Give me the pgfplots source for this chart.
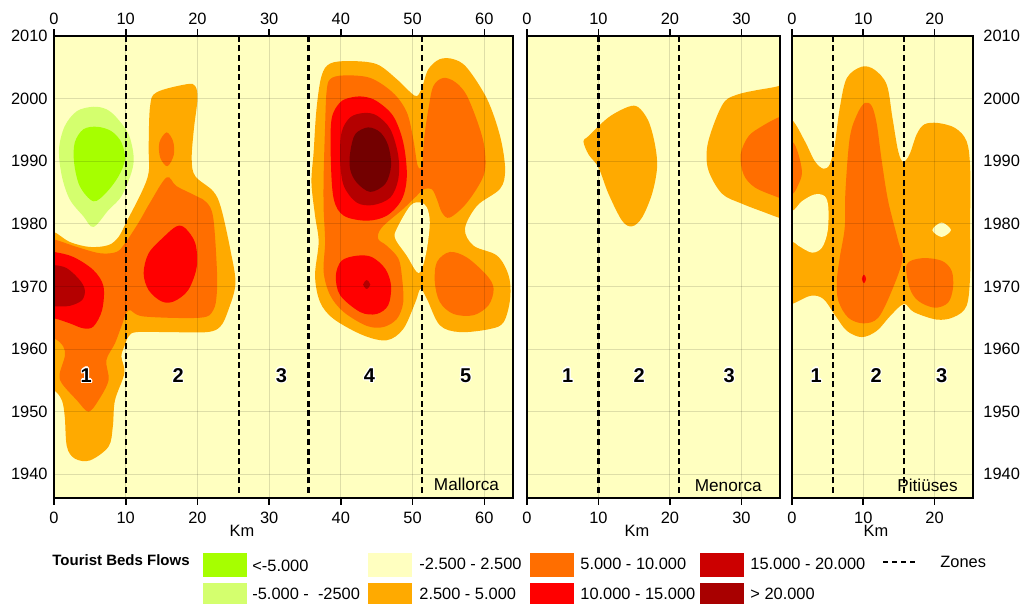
\documentclass[border=0pt]{standalone}
\usepackage{fontspec}
\setmainfont{Liberation Sans}
\usepackage{pgfplots}
\pgfplotsset{compat=1.18}

\definecolor{bgY}{RGB}{255,255,192}
\definecolor{gr1}{RGB}{166,255,0}
\definecolor{gr2}{RGB}{212,255,110}
\definecolor{or1}{RGB}{255,170,0}
\definecolor{or2}{RGB}{255,110,0}
\definecolor{rd1}{RGB}{255,0,0}
\definecolor{rd2}{RGB}{180,0,0}
\definecolor{rd3}{RGB}{115,0,0}
\definecolor{rd2L}{RGB}{204,0,0}
\definecolor{rd3L}{RGB}{168,0,0}

% zone number with white halo
\newcommand{\zl}[3]{%
  \node[zn,text=white,xshift=0.6pt] at (axis cs:#1,#2) {#3};
  \node[zn,text=white,xshift=-0.6pt] at (axis cs:#1,#2) {#3};
  \node[zn,text=white,yshift=0.6pt] at (axis cs:#1,#2) {#3};
  \node[zn,text=white,yshift=-0.6pt] at (axis cs:#1,#2) {#3};
  \node[zn,text=white,xshift=0.45pt,yshift=0.45pt] at (axis cs:#1,#2) {#3};
  \node[zn,text=white,xshift=-0.45pt,yshift=0.45pt] at (axis cs:#1,#2) {#3};
  \node[zn,text=white,xshift=0.45pt,yshift=-0.45pt] at (axis cs:#1,#2) {#3};
  \node[zn,text=white,xshift=-0.45pt,yshift=-0.45pt] at (axis cs:#1,#2) {#3};
  \node[zn,text=black] at (axis cs:#1,#2) {#3};}

\tikzset{zn/.style={font=\bfseries\fontsize{10}{12}\selectfont, inner sep=0pt}}

\pgfplotsset{
  panel/.style={
    anchor=south west, scale only axis, height=231pt,
    xmin=0, ymin=1936.2, ymax=2010,
    ytick={1940,1950,...,2010},
    axis background/.style={fill=bgY},
    grid=major, grid style={black, opacity=0.13, line width=0.5pt},
    axis on top,
    axis line style={black, line width=0.9pt},
    tick align=outside, xtick pos=bottom,
    major tick length=3.5pt,
    xtick style={black, line width=0.8pt},
    ytick style={draw=none},
    tick label style={font=\fontsize{8.2}{9}\selectfont},
    /pgf/number format/assume math mode=true,
    /pgf/number format/1000 sep={},
    scaled ticks=false,
  },
  toppanel/.style={
    anchor=south west, scale only axis, height=231pt,
    xmin=0, ymin=1936.2, ymax=2010,
    axis x line*=top, axis y line=none,
    axis line style={-, black, line width=0.9pt},
    tick align=outside, major tick length=3.5pt,
    xtick style={black, line width=0.8pt},
    tick label style={font=\fontsize{8.2}{9}\selectfont},
    xticklabel style={yshift=-1.2pt},
    /pgf/number format/assume math mode=true,
  },
  blob/.style={draw=none, smooth cycle, tension=0.55},
  zone/.style={black, line width=1.1pt, dash pattern=on 3pt off 1.8pt},
}

\begin{document}
\begin{tikzpicture}
\path[use as bounding box] (0,0) rectangle (512pt,-302pt);

% ---------------- Mallorca ----------------
\begin{axis}[panel, at={(27pt,-249pt)}, width=229.5pt, xmax=64,
  xtick={0,10,...,60}, ytick pos=left, yticklabel style={xshift=3.8pt}]
% west
\addplot[blob, fill=or1] coordinates {(-2,1979) (0,1978.7) (2.2,1977.1) (5.0,1976.3) (7.6,1976.6) (9.0,1977.9) (10.1,1980.3) (12.2,1985.0) (13.2,1988.2) (13.2,1992.4) (13.4,1998.8) (14.3,2001.0) (18.5,2002.3) (19.7,2002.0) (20.0,1999.9) (19.5,1995.1) (19.2,1990.3) (19.7,1987.6) (22.2,1985.2) (23.3,1982.5) (24.6,1975.8) (25.3,1970.5) (24.3,1966.2) (23.2,1963.6) (21.3,1962.7) (16.0,1962.7) (11.5,1962.7) (10.4,1962.0) (9.8,1960.4) (9.4,1958.8) (9.8,1956.1) (8.5,1951.8) (8.2,1947.6) (7.6,1944.4) (5.0,1942.2) (2.9,1942.5) (1.8,1944.4) (1.5,1949.2) (1.1,1951.8) (0,1953.4) (-2,1954)};
\addplot[blob, fill=gr2] coordinates {(5.5,1998.7) (7.3,1998.3) (8.7,1997.0) (10.4,1994.3) (11.1,1990.8) (10.8,1988.2) (9.4,1984.4) (7.6,1982.2) (5.5,1979.5) (4.1,1981.2) (2.2,1983.9) (1.1,1987.6) (0.7,1991.9) (1.5,1995.6) (3.2,1998.0)};
\addplot[blob, fill=gr1] coordinates {(6.0,1995.5) (8.0,1994.8) (9.4,1993.0) (9.9,1990.3) (9.0,1987.6) (7.3,1985.0) (5.5,1983.6) (3.6,1986.0) (2.8,1989.8) (2.9,1993.0) (4.1,1995.1)};
\addplot[blob, fill=or2] coordinates {(15.7,1994.6) (16.6,1993.2) (16.7,1991.0) (15.8,1989.2) (14.8,1990.6) (14.7,1993.0)};
\addplot[blob, fill=or2] coordinates {(-2,1977.6) (0,1977.5) (3.2,1976.3) (6.4,1975.3) (8.7,1975.5) (9.9,1976.9) (11.8,1980.2) (13.4,1983.4) (15.7,1987.4) (17.1,1986.0) (19.9,1984.4) (21.3,1983.4) (22.2,1981.0) (22.7,1973.1) (22.7,1968.9) (22.2,1966.2) (20.4,1965.0) (12.5,1965.2) (10.4,1966.2) (9.4,1963.6) (8.5,1960.9) (7.3,1958.2) (7.6,1955.0) (6.2,1951.8) (4.8,1950.0) (3.2,1951.8) (1.1,1954.5) (0.8,1956.1) (1.5,1958.8) (1.3,1960.4) (0,1961.7) (-2,1961.7)};
\addplot[blob, fill=rd1] coordinates {(-2,1975.6) (0,1975.5) (2.7,1974.7) (5.5,1972.6) (6.9,1970.0) (6.7,1966.2) (5.5,1963.6) (4.1,1963.3) (2.2,1964.1) (0,1964.9) (-2,1965)};
\addplot[blob, fill=rd2] coordinates {(-2,1973.4) (0,1973.4) (1.8,1972.9) (3.6,1971.0) (4.3,1969.4) (3.9,1967.8) (2.2,1966.9) (0,1966.8) (-2,1966.8)};
\addplot[blob, fill=rd1] coordinates {(17.1,1979.6) (18.3,1979.3) (19.7,1976.9) (19.9,1973.1) (18.7,1969.4) (16.7,1967.6) (15.0,1967.6) (13.2,1969.4) (12.5,1972.1) (13.2,1975.3) (15.3,1977.9)};
% east
\addplot[blob, fill=or1] coordinates {(36.6,1998.3) (37.3,2003.6) (38.5,2005.6) (41.3,2006.0) (45.0,2005.5) (47.8,2003.1) (49.7,2001.0) (50.6,2000.4) (51.3,2001.7) (52.2,2004.7) (53.8,2006.3) (55.7,2006.3) (57.6,2004.9) (60.4,1999.9) (62.2,1994.0) (62.9,1988.7) (62.2,1985.6) (59.0,1982.9) (57.3,1979.2) (58.5,1976.5) (61.8,1974.9) (63.4,1971.7) (63.6,1968.0) (62.7,1964.3) (60.8,1963.2) (56.6,1962.7) (53.8,1963.8) (52.0,1968.0) (51.1,1969.6) (50.4,1967.5) (48.7,1963.2) (46.4,1961.4) (43.1,1962.2) (39.0,1964.8) (37.1,1967.5) (36.4,1971.7) (36.9,1977.1) (36.4,1981.3) (35.9,1986.6) (36.2,1991.4)};
\addplot[blob, fill=bgY] coordinates {(51.1,1983.4) (52.0,1982.6) (52.4,1980.2) (52.0,1976.0) (51.3,1972.8) (50.6,1972.3) (49.2,1974.9) (47.6,1977.6) (47.8,1979.2) (49.7,1982.9)};
\addplot[blob, fill=or2] coordinates {(38.0,2001.0) (38.5,2003.1) (40.4,2003.7) (44.1,2003.3) (47.3,2000.9) (49.2,1997.8) (50.1,1993.5) (50.7,1989.3) (51.3,1989.3) (51.6,1993.5) (52.2,1998.3) (52.9,2002.0) (54.3,2003.3) (56.0,2002.6) (57.6,2000.4) (59.4,1995.1) (60.1,1991.4) (59.9,1987.7) (57.6,1983.4) (55.2,1981.0) (54.1,1981.8) (53.4,1983.9) (52.7,1985.5) (51.5,1985.5) (50.6,1984.5) (48.7,1982.4) (45.7,1979.4) (45.2,1977.6) (46.4,1976.5) (48.0,1974.5) (48.5,1971.7) (48.7,1967.5) (47.8,1964.8) (45.9,1963.5) (43.6,1963.7) (40.4,1965.9) (38.5,1968.6) (37.6,1972.3) (37.8,1977.1) (37.6,1982.4) (37.6,1987.7) (37.8,1995.6)};
\addplot[blob, fill=or2] coordinates {(55.2,1975.5) (57.6,1974.6) (60.4,1971.7) (61.3,1969.6) (60.6,1967.0) (58.5,1965.4) (55.7,1965.6) (53.8,1967.5) (53.1,1970.7) (53.4,1973.9)};
\addplot[blob, fill=rd1] coordinates {(41.5,2000.2) (43.2,2000.3) (45.0,1999.6) (47.3,1997.2) (48.7,1993.0) (49.2,1987.7) (48.5,1983.9) (46.4,1981.3) (43.6,1980.5) (40.4,1981.3) (39.0,1984.0) (38.6,1990.3) (38.7,1996.7) (39.9,1999.4)};
\addplot[blob, fill=rd2] coordinates {(43.2,1997.7) (45.0,1997.3) (46.9,1995.1) (48.0,1990.9) (48.0,1987.1) (46.9,1984.2) (44.5,1983.0) (42.2,1983.4) (40.4,1986.1) (39.9,1990.3) (40.1,1994.6) (41.3,1997.0)};
\addplot[blob, fill=rd3] coordinates {(43.8,1995.4) (45.5,1994.6) (46.6,1992.5) (47.0,1989.3) (46.2,1986.4) (44.1,1985.1) (42.2,1986.6) (41.3,1988.7) (41.3,1991.4) (42.0,1994.3)};
\addplot[blob, fill=rd1] coordinates {(42.2,1974.9) (44.3,1974.7) (46.2,1972.8) (47.0,1970.1) (46.6,1967.0) (45.0,1965.6) (42.7,1965.9) (39.9,1968.6) (39.3,1971.7) (40.1,1974.1)};
\addplot[blob, fill=rd2] coordinates {(43.6,1971.0) (44.1,1970.3) (43.6,1969.6) (43.1,1970.3)};
% zones
\addplot[zone] coordinates {(10,1937) (10,2010)};
\addplot[zone] coordinates {(25.8,1937) (25.8,2010)};
\addplot[zone] coordinates {(35.5,1937) (35.5,2010)};
\addplot[zone] coordinates {(51.3,1937) (51.3,2010)};
\zl{4.5}{1955.8}{1}
\zl{17.3}{1955.8}{2}
\zl{31.7}{1955.8}{3}
\zl{44.0}{1955.8}{4}
\zl{57.4}{1955.8}{5}
\node[anchor=east, font=\fontsize{8.6}{10}\selectfont, inner sep=0pt] at (axis cs:62.1,1938.4) {Mallorca};
\end{axis}
\begin{axis}[toppanel, at={(27pt,-249pt)}, width=229.5pt, xmax=64, xtick={0,10,...,60}]
\end{axis}

% ---------------- Menorca ----------------
\begin{axis}[panel, at={(263.5pt,-249pt)}, width=126.5pt, xmax=35.4,
  xtick={0,10,20,30}, yticklabels={}]
\addplot[blob, fill=or1] coordinates {(7.9,1993.2) (8.6,1994.0) (11.4,1997.0) (14.2,1998.7) (15.6,1998.6) (17.0,1996.4) (17.9,1992.7) (18.2,1989.0) (17.5,1984.8) (16.1,1981.0) (14.7,1979.6) (13.3,1980.5) (11.4,1984.8) (10.0,1989.0) (8.6,1991.1)};
\addplot[blob, fill=or1] coordinates {(37,2003) (35.2,2002.0) (31.9,2001.3) (29.6,2000.7) (27.7,1999.6) (26.3,1996.4) (25.2,1992.2) (25.4,1988.5) (27.3,1984.8) (30.1,1983.2) (33.3,1981.8) (35.2,1981.0) (37,1980.5)};
\addplot[blob, fill=or2] coordinates {(37,1997.5) (35.2,1997.0) (32.9,1995.6) (31.0,1994.0) (29.9,1991.1) (30.3,1987.9) (31.9,1985.8) (35.2,1984.2) (37,1983.5)};
\addplot[zone] coordinates {(10,1937) (10,2010)};
\addplot[zone] coordinates {(21.3,1937) (21.3,2010)};
\zl{5.7}{1955.8}{1}
\zl{15.7}{1955.8}{2}
\zl{28.3}{1955.8}{3}
\node[anchor=east, font=\fontsize{8.6}{10}\selectfont, inner sep=0pt] at (axis cs:32.9,1938.2) {Menorca};
\end{axis}
\begin{axis}[toppanel, at={(263.5pt,-249pt)}, width=126.5pt, xmax=35.4, xtick={0,10,20,30}]
\end{axis}

% ---------------- Pitiuses ----------------
\begin{axis}[panel, at={(396pt,-249pt)}, width=90.5pt, xmax=25.4,
  xtick={0,10,20}, ytick pos=right, yticklabel pos=right,
  yticklabel style={xshift=-1.8pt}]
\addplot[blob, fill=or1] coordinates {(-2,1997) (0,1996.6) (1.8,1993.2) (3.2,1990.0) (4.4,1988.8) (5.3,1989.5) (6.0,1992.7) (6.7,1998.5) (7.7,2003.3) (9.8,2005.1) (11.6,2004.6) (13.3,2002.2) (14.1,1996.9) (14.9,1991.6) (15.6,1989.9) (16.5,1991.1) (17.5,1994.3) (18.6,1995.9) (20.5,1996.1) (22.9,1995.3) (24.5,1993.2) (25.0,1988.9) (25.0,1979.9) (25.0,1971.9) (24.5,1966.9) (22.7,1965.1) (20.3,1964.7) (17.1,1965.9) (15.7,1967.2) (13.8,1965.3) (11.9,1962.9) (9.8,1961.9) (7.7,1962.9) (6.1,1965.3) (4.4,1968.0) (2.6,1968.5) (0,1967.2) (-2,1967)};
\addplot[blob, fill=bgY] coordinates {(-2,1982) (0,1982.0) (1.4,1983.6) (3.2,1984.7) (4.6,1984.4) (5.1,1982.6) (5.0,1978.8) (4.2,1976.2) (2.8,1975.4) (0.9,1976.5) (0,1977.2) (-2,1977.2)};
\addplot[blob, fill=bgY] coordinates {(21.0,1980.2) (22.3,1979.0) (21.0,1977.9) (19.7,1979.0)};
\addplot[blob, fill=or2] coordinates {(-2,1993.5) (0,1993.2) (0.9,1991.1) (1.4,1988.2) (0.9,1986.3) (0,1984.7) (-2,1984.5)};
\addplot[blob, fill=or2] coordinates {(10.2,1999.3) (11.2,1998.8) (11.9,1995.9) (12.6,1990.0) (13.5,1983.6) (14.9,1977.3) (15.5,1974.3) (14.0,1969.3) (12.1,1965.0) (10.0,1964.1) (7.9,1965.0) (6.5,1967.7) (6.3,1970.9) (6.7,1974.6) (7.4,1979.4) (7.5,1985.2) (8.1,1993.7) (9.1,1997.4)};
\addplot[blob, fill=or2] coordinates {(16.1,1973.5) (18.2,1974.5) (21.0,1974.1) (22.4,1972.5) (22.6,1969.8) (21.9,1967.4) (20.0,1966.6) (17.7,1967.7) (16.5,1969.8)};
\addplot[blob, fill=rd1] coordinates {(10.1,1971.9) (10.4,1971.2) (10.1,1970.5) (9.8,1971.2)};
\addplot[zone] coordinates {(5.7,1937) (5.7,2010)};
\addplot[zone] coordinates {(15.7,1937) (15.7,2010)};
\zl{3.4}{1955.8}{1}
\zl{11.8}{1955.8}{2}
\zl{21.0}{1955.8}{3}
\node[anchor=east, font=\fontsize{8.6}{10}\selectfont, inner sep=0pt] at (axis cs:23.3,1938.2) {Pitiüses};
\end{axis}
\begin{axis}[toppanel, at={(396pt,-249pt)}, width=90.5pt, xmax=25.4, xtick={0,10,20}]
\end{axis}

% Km labels
\node[font=\fontsize{8.2}{9}\selectfont] at (121pt,-265.5pt) {Km};
\node[font=\fontsize{8.2}{9}\selectfont] at (318.5pt,-265.5pt) {Km};
\node[font=\fontsize{8.2}{9}\selectfont] at (438pt,-265.5pt) {Km};

% legend
\begin{scope}[font=\fontsize{8.2}{9}\selectfont]
\node[anchor=west, font=\bfseries\fontsize{7.5}{9}\selectfont, inner sep=0pt] at (26pt,-280pt) {Tourist Beds Flows};
\fill[gr1] (101.5pt,-276.5pt) rectangle ++(22pt,-12pt);
\fill[gr2] (101.5pt,-291.5pt) rectangle ++(22pt,-12pt);
\fill[bgY] (184pt,-276.5pt) rectangle ++(22pt,-12pt);
\fill[or1] (184pt,-291.5pt) rectangle ++(22pt,-12pt);
\fill[or2] (265pt,-276.5pt) rectangle ++(22pt,-12pt);
\fill[rd1] (265pt,-291.5pt) rectangle ++(22pt,-12pt);
\fill[rd2L] (350pt,-276.5pt) rectangle ++(22pt,-12pt);
\fill[rd3L] (350pt,-291.5pt) rectangle ++(22pt,-12pt);
\node[anchor=west, inner sep=0pt] at (126pt,-283pt) {<-5.000};
\node[anchor=west, inner sep=0pt] at (126pt,-297pt) {-5.000 -\ \ -2500};
\node[anchor=west, inner sep=0pt] at (209.5pt,-282pt) {-2.500 - 2.500};
\node[anchor=west, inner sep=0pt] at (209.5pt,-297pt) {2.500 - 5.000};
\node[anchor=west, inner sep=0pt] at (290pt,-282pt) {5.000 - 10.000};
\node[anchor=west, inner sep=0pt] at (290pt,-297pt) {10.000 - 15.000};
\node[anchor=west, inner sep=0pt] at (375pt,-282pt) {15.000 - 20.000};
\node[anchor=west, inner sep=0pt] at (375pt,-297pt) {> 20.000};
\draw[black, line width=1.2pt, dash pattern=on 2.5pt off 2pt] (441.5pt,-281pt) -- (459pt,-281pt);
\node[anchor=west, inner sep=0pt] at (470pt,-281pt) {Zones};
\end{scope}
\end{tikzpicture}
\end{document}
